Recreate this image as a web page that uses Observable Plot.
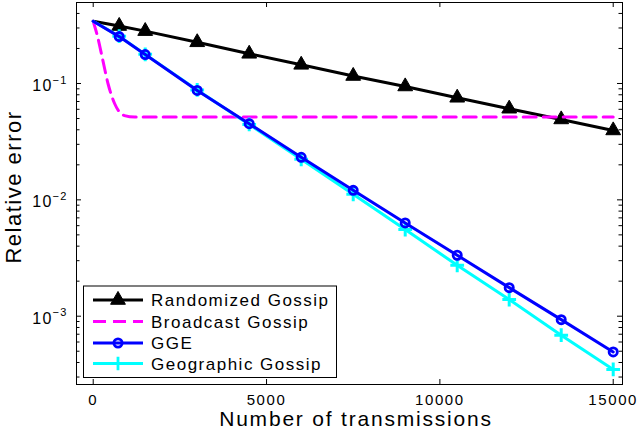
<!DOCTYPE html>
<html><head><meta charset="utf-8">
<script src="https://cdn.jsdelivr.net/npm/d3@7"></script>
<script src="https://cdn.jsdelivr.net/npm/@observablehq/plot@0.6"></script>
<style>
body{margin:0;background:#fff}
svg{display:block}
</style>
</head><body><div id="chart"></div>
<script>
// ---- data ----
const steps = [0, 750, 1500, 3000, 4500, 6000, 7500, 9000, 10500, 12000, 13500, 15000];
const randomizedGossip = [0.343, 0.312, 0.282, 0.226, 0.180, 0.1447, 0.116, 0.0943, 0.0754, 0.0607, 0.0491, 0.0395];
const gge = [0.343, 0.253, 0.1774, 0.0871, 0.0451, 0.0232, 0.01207, 0.00633, 0.00334, 0.00176, 0.000934, 0.000493];
const geographicGossip = [0.343, 0.255, 0.178, 0.088, 0.0445, 0.0223, 0.01115, 0.00555, 0.00274, 0.00139, 0.000687, 0.000349];
const broadcastSteps = [0, 130, 280, 430, 620, 900, 1200, 15000];
const broadcastGossip = [0.343, 0.25, 0.157, 0.099, 0.067, 0.053, 0.0514, 0.0514];
const seriesNames = ["Randomized Gossip", "Broadcast Gossip", "GGE", "Geographic Gossip"];
const xTicks = [0, 5000, 10000, 15000];
const yTicks = [1e-1, 1e-2, 1e-3];
const yMinorTicks = [3e-4,4e-4,5e-4,6e-4,7e-4,8e-4,9e-4,2e-3,3e-3,4e-3,5e-3,6e-3,7e-3,8e-3,9e-3,2e-2,3e-2,4e-2,5e-2,6e-2,7e-2,8e-2,9e-2,2e-1,3e-1,4e-1];

const rows = (xs, ys) => xs.map((x, i) => ({x, y: ys[i]}));
const rg = rows(steps, randomizedGossip);
const gg = rows(steps, gge);
const geo = rows(steps, geographicGossip);
const bc = rows(broadcastSteps, broadcastGossip);

const W = 640, H = 429, mL = 76, mR = 18, mT = 2, mB = 45;
const fw = W - mL - mR, fh = H - mT - mB;
const FONT = "'Liberation Sans', Arial, Helvetica, sans-serif";
const PLUS_R = 4.5, TRI_R = 5.5, CIRC_R = 4.1, LW = 3;

const plot = Plot.plot({
  width: W, height: H,
  marginLeft: mL, marginRight: mR, marginTop: mT, marginBottom: mB,
  style: {fontFamily: FONT, background: "white", overflow: "visible", color: "black"},
  x: {domain: [-482, 15268], axis: null},
  y: {type: "log", domain: [2.588e-4, 0.4967], axis: null},
  marks: [
    // ticks (inward, both sides)
    Plot.ruleX(xTicks, {x: d => d, insetTop: fh - 5, stroke: "black"}),
    Plot.ruleX(xTicks, {x: d => d, insetBottom: fh - 5, stroke: "black"}),
    Plot.ruleY(yTicks, {y: d => d, insetRight: fw - 5, stroke: "black"}),
    Plot.ruleY(yTicks, {y: d => d, insetLeft: fw - 5, stroke: "black"}),
    Plot.ruleY(yMinorTicks, {y: d => d, insetRight: fw - 3.5, stroke: "black"}),
    Plot.ruleY(yMinorTicks, {y: d => d, insetLeft: fw - 3.5, stroke: "black"}),
    // series
    Plot.line(rg, {x: "x", y: "y", stroke: "black", strokeWidth: LW}),
    Plot.dot(rg.slice(1), {x: "x", y: "y", symbol: "triangle", r: TRI_R, fill: "black", stroke: "black", strokeWidth: 1}),
    Plot.line(bc, {x: "x", y: "y", stroke: "#ff00ff", strokeWidth: LW, strokeDasharray: "13,7", curve: "monotone-x"}),
    Plot.line(geo, {x: "x", y: "y", stroke: "#00ffff", strokeWidth: LW}),
    Plot.dot(geo.slice(1), {x: "x", y: "y", symbol: "plus", r: PLUS_R, stroke: "#00ffff", strokeWidth: LW}),
    Plot.line(gg, {x: "x", y: "y", stroke: "#0000ff", strokeWidth: LW}),
    Plot.dot(gg.slice(1), {x: "x", y: "y", symbol: "circle", r: CIRC_R, fill: "none", stroke: "#0000ff", strokeWidth: 2.8}),
    Plot.frame({stroke: "black", strokeWidth: 1}),
    // tick labels
    Plot.axisX(xTicks, {anchor: "bottom", tickSize: 0, tickPadding: 10, fontSize: 15, label: null, tickFormat: d => String(d)}),
    Plot.axisY(yTicks, {anchor: "left", tickSize: 0, tickPadding: 9, fontSize: 16, dy: 2.5, label: null, tickFormat: d => "10^" + Math.round(Math.log10(d))})
  ]
});
document.getElementById("chart").appendChild(plot);

const svg = d3.select(plot);
svg.selectAll('g[aria-label="x-axis tick label"] text').attr("letter-spacing", "1.6px");
svg.selectAll('g[aria-label="y-axis tick label"] text').each(function() {
  const t = this.textContent;
  const e = t.split("^")[1].replace("-", "\u2212");
  this.textContent = "";
  const s = d3.select(this).attr("letter-spacing", "1.2px");
  s.append("tspan").text("10");
  s.append("tspan").attr("dy", "-7.5").attr("font-size", "11px").text(e);
});

// axis labels
svg.append("text").attr("x", 356).attr("y", 426).attr("text-anchor", "middle")
  .attr("font-family", FONT).attr("font-size", 21).attr("letter-spacing", "1.8px").text("Number of transmissions");
svg.append("text").attr("transform", "translate(21,187) rotate(-90)").attr("text-anchor", "middle")
  .attr("font-family", FONT).attr("font-size", 22).attr("letter-spacing", "1.5px").text("Relative error");

// legend
const lg = svg.append("g");
lg.append("rect").attr("x", 83.5).attr("y", 286).attr("width", 253).attr("height", 91.5)
  .attr("fill", "white").attr("stroke", "black").attr("stroke-width", 1);
const rowY = [300, 321.5, 343, 363.5];
const styles = [
  {stroke: "black", dash: null, sym: d3.symbolTriangle, size: TRI_R*TRI_R*Math.PI, fill: "black"},
  {stroke: "#ff00ff", dash: "13,7", sym: null},
  {stroke: "#0000ff", dash: null, sym: d3.symbolCircle, size: CIRC_R*CIRC_R*Math.PI, fill: "none"},
  {stroke: "#00ffff", dash: null, sym: d3.symbolPlus, size: PLUS_R*PLUS_R*Math.PI, fill: "none"}
];
seriesNames.forEach((name, i) => {
  const y = rowY[i], st = styles[i];
  lg.append("line").attr("x1", 93).attr("x2", 143).attr("y1", y).attr("y2", y)
    .attr("stroke", st.stroke).attr("stroke-width", LW).attr("stroke-dasharray", st.dash);
  if (st.sym) {
    lg.append("path").attr("transform", `translate(118,${y})`).attr("d", d3.symbol(st.sym, st.size)())
      .attr("fill", st.fill).attr("stroke", st.stroke).attr("stroke-width", i === 0 ? 1 : 2.8);
  }
  lg.append("text").attr("x", 151).attr("y", y).attr("dy", "0.36em").attr("text-anchor", "start")
    .attr("font-family", FONT).attr("font-size", 17).attr("letter-spacing", "1.5px").text(name);
});
</script>
</body></html>
